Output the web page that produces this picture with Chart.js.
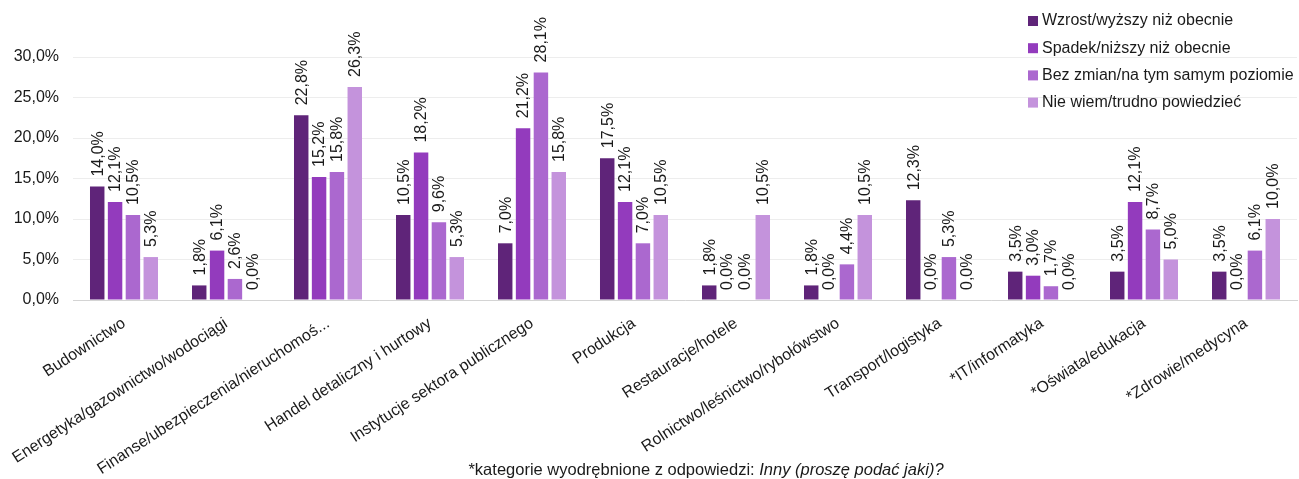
<!DOCTYPE html>
<html>
<head>
<meta charset="utf-8">
<script src="https://cdn.jsdelivr.net/npm/chart.js@4"></script>
<style>
  html, body { margin: 0; padding: 0; background: #fff; }
  #wrap { width: 1299px; height: 479px; position: relative; }
</style>
</head>
<body>
<div id="wrap"><canvas id="wykres"></canvas></div>
<script>
var kategorie = ['Budownictwo', 'Energetyka/gazownictwo/wodociągi', 'Finanse/ubezpieczenia/nieruchomoś...',
    'Handel detaliczny i hurtowy', 'Instytucje sektora publicznego', 'Produkcja', 'Restauracje/hotele',
    'Rolnictwo/leśnictwo/rybołówstwo', 'Transport/logistyka', '*IT/informatyka', '*Oświata/edukacja',
    '*Zdrowie/medycyna']

var wzrost = [14.0, 1.8, 22.8, 10.5, 7.0, 17.5, 1.8, 1.8, 12.3, 3.5, 3.5, 3.5]
var spadek = [12.1, 6.1, 15.2, 18.2, 21.2, 12.1, 0.0, 0.0, 0.0, 3.0, 12.1, 0.0]
var bezZmian = [10.5, 2.6, 15.8, 9.6, 28.1, 7.0, 0.0, 4.4, 5.3, 1.7, 8.7, 6.1]
var nieWiem = [5.3, 0.0, 26.3, 5.3, 15.8, 10.5, 10.5, 10.5, 0.0, 0.0, 5.0, 10.0]

var serie = ['Wzrost/wyższy niż obecnie', 'Spadek/niższy niż obecnie', 'Bez zmian/na tym samym poziomie', 'Nie wiem/trudno powiedzieć']
var kolory = ['#5f2479', '#933bbd', '#ab68cf', '#c493dc']

var osY = { min: 0, max: 30, krok: 5 }

var przypis = '*kategorie wyodrębnione z odpowiedzi: '
var przypisKursywa = 'Inny (proszę podać jaki)?'

function procent(v) {
    return v.toFixed(1).replace('.', ',') + '%'
}

var FONT = 'Liberation Sans, Arial, sans-serif'
Chart.defaults.font.family = FONT
Chart.defaults.color = '#1a1a1a'

// etykiety nad slupkami, obrocone pionowo
var etykiety = {
    id: 'etykiety',
    afterDatasetsDraw: function (chart) {
        var ctx = chart.ctx
        ctx.save()
        ctx.font = '16px ' + FONT
        ctx.fillStyle = '#1a1a1a'
        ctx.textAlign = 'left'
        ctx.textBaseline = 'middle'
        chart.data.datasets.forEach(function (ds, i) {
            chart.getDatasetMeta(i).data.forEach(function (bar, j) {
                ctx.save()
                ctx.translate(bar.x + 1, bar.y - 10)
                ctx.rotate(-Math.PI / 2)
                ctx.fillText(procent(ds.data[j]), 0, 0)
                ctx.restore()
            })
        })
        ctx.restore()
    }
}

// legenda w prawym gornym rogu i przypis na dole
var legendaIPrzypis = {
    id: 'legendaIPrzypis',
    afterDraw: function (chart) {
        var ctx = chart.ctx
        ctx.save()
        ctx.font = '16px ' + FONT
        ctx.textBaseline = 'middle'
        ctx.textAlign = 'left'
        serie.forEach(function (nazwa, i) {
            var y = 21 + i * 27.2
            ctx.fillStyle = kolory[i]
            ctx.fillRect(1028, y - 5, 10, 10)
            ctx.fillStyle = '#1a1a1a'
            ctx.fillText(nazwa, 1042, y)
        })

        ctx.font = '16.5px ' + FONT
        var w1 = ctx.measureText(przypis).width
        ctx.font = 'italic 16.5px ' + FONT
        var w2 = ctx.measureText(przypisKursywa).width
        var x0 = 706 - (w1 + w2) / 2
        ctx.font = '16.5px ' + FONT
        ctx.fillText(przypis, x0, 470)
        ctx.font = 'italic 16.5px ' + FONT
        ctx.fillText(przypisKursywa, x0 + w1, 470)
        ctx.restore()
    }
}

var ctx = document.getElementById('wykres').getContext('2d')
var wykres = new Chart(ctx, {
    type: 'bar',
    data: {
        labels: kategorie,
        datasets: [
            { label: serie[0], data: wzrost, backgroundColor: kolory[0] },
            { label: serie[1], data: spadek, backgroundColor: kolory[1] },
            { label: serie[2], data: bezZmian, backgroundColor: kolory[2] },
            { label: serie[3], data: nieWiem, backgroundColor: kolory[3] }
        ]
    },
    options: {
        responsive: true,
        maintainAspectRatio: false,
        animation: false,
        datasets: {
            bar: { categoryPercentage: 0.7, barPercentage: 0.81 }
        },
        layout: { padding: { top: 57, right: 2, left: 0, bottom: 0 } },
        plugins: {
            legend: { display: false },
            tooltip: { enabled: false }
        },
        scales: {
            x: {
                grid: { display: false },
                border: { color: '#d4d4d4' },
                ticks: {
                    font: { size: 16 },
                    minRotation: 33,
                    maxRotation: 33,
                    autoSkip: false,
                    padding: 6
                },
                afterFit: function (s) { s.height = 179 }
            },
            y: {
                min: osY.min,
                max: osY.max,
                grid: { color: '#ededed', drawTicks: false },
                border: { display: false },
                ticks: {
                    stepSize: osY.krok,
                    font: { size: 16 },
                    padding: 14,
                    callback: function (v) { return procent(v) }
                },
                afterFit: function (s) { s.width = 73 }
            }
        }
    },
    plugins: [etykiety, legendaIPrzypis]
})
</script>
</body>
</html>
